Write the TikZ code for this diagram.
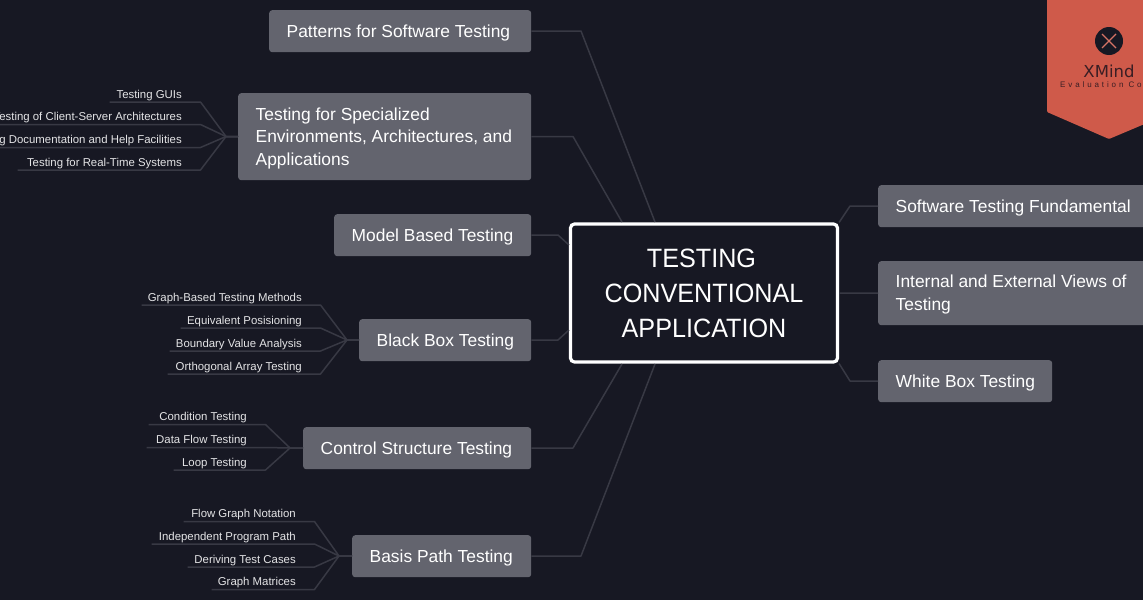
\documentclass[tikz,border=0pt]{standalone}
\usepackage{fontspec}
\setmainfont{Liberation Sans}
\newfontfamily\centerfont[FakeStretch=0.95]{Liberation Sans}
\newfontfamily\evalfont[LetterSpace=36]{Liberation Sans}
\newfontfamily\xmfont{DejaVu Sans}
\definecolor{bgc}{HTML}{171823}
\definecolor{boxc}{HTML}{63646E}
\definecolor{linec}{HTML}{383944}
\definecolor{leaftext}{HTML}{E4E4E6}
\definecolor{badge}{HTML}{CF5A4A}
\definecolor{badgetext}{HTML}{3A1E24}
\tikzset{
  branch/.style={fill=boxc,rounded corners=3pt,text=white,anchor=north west,inner sep=0pt,font=\fontsize{17.4}{22.5}\selectfont},
  leafnode/.style={anchor=south east,inner xsep=0pt,inner ysep=3.7pt,text height=8pt,text depth=0pt,text=leaftext,font=\fontsize{11.4}{13}\selectfont},
  conn/.style={draw=linec,line width=1.5pt,line join=round},
  centerbox/.style={draw=white,line width=3.2pt,fill=bgc,rounded corners=4pt,text=white,align=center,font=\centerfont\fontsize{26.5}{35}\selectfont,inner sep=0pt}
}
\newcommand{\branchnode}[6]{%
  \pgfmathsetlengthmacro{\bw}{#4-#2}\pgfmathsetlengthmacro{\bh}{#5-#3}%
  \node[branch,minimum width=\bw,minimum height=\bh] (#1) at (#2,#3) {\vbox{\kern3pt\hbox to \bw{\hskip17.5pt\begin{tabular}{@{}l@{}}#6\end{tabular}\hss}}};}
\newcommand{\leafnode}[7]{%
  \pgfmathsetlengthmacro{\lw}{#4-#6}%
  \coordinate (#1j) at (#3);
  \node[leafnode] (#1) at (#4,#5) {\makebox[\lw][r]{#7}};
  \draw[conn] (#2.west) -- (#1j) -- ([xshift=18.5pt]#1.south east) -- (#1.south west);}
\begin{document}
\begin{tikzpicture}[x=1pt,y=-1pt]
\fill[bgc] (0,0) rectangle (1143,600);
\useasboundingbox (0,0) rectangle (1143,600);
\clip (0,0) rectangle (1143,600);
% central node
\node[centerbox,minimum width=267pt,minimum height=138pt] (center) at (704,293) {TESTING\hspace*{5pt}\\CONVENTIONAL\hspace*{8pt}\\APPLICATION};
\coordinate (nwA) at (655,222);
\coordinate (nwB) at (622,222);
\coordinate (nwC) at (569,245);
\coordinate (swC) at (569,330);
\coordinate (swB) at (622,364);
\coordinate (swA) at (655,364);
% branches
\branchnode{pat}{269}{10}{531}{52}{Patterns for Software Testing}
\branchnode{spec}{238}{93}{531}{180}{Testing for Specialized\\Environments, Architectures, and\\Applications}
\branchnode{model}{334}{214}{531}{256}{Model Based Testing}
\branchnode{black}{359}{319}{531}{361}{Black Box Testing}
\branchnode{ctrl}{303}{427}{531}{469}{Control Structure Testing}
\branchnode{basis}{352}{535}{531}{577}{Basis Path Testing}
\branchnode{fund}{878}{185}{1150}{227}{Software Testing Fundamental}
\branchnode{views}{878}{261}{1150}{325}{Internal and External Views of\\Testing}
\branchnode{white}{878}{360}{1052}{402}{White Box Testing}
% main connectors
\draw[conn] (pat.east) -- (581,31) -- (nwA);
\draw[conn] (spec.east) -- (573,136.5) -- (nwB);
\draw[conn] (model.east) -- (558,235) -- (nwC);
\draw[conn] (black.east) -- (558,340) -- (swC);
\draw[conn] (ctrl.east) -- (573,448) -- (swB);
\draw[conn] (basis.east) -- (581,556) -- (swA);
\draw[conn] (center.north east) -- (850,206) -- (fund.west);
\draw[conn] (center.east) -- (views.west);
\draw[conn] (center.south east) -- (850,381) -- (white.west);
% leaves
\leafnode{s1}{spec}{226,136.5}{182}{102}{110}{Testing GUIs}
\leafnode{s2}{spec}{226,136.5}{182}{124.5}{-30}{Testing of Client-Server Architectures}
\leafnode{s3}{spec}{226,136.5}{182}{147.5}{-30}{Testing Documentation and Help Facilities}
\leafnode{s4}{spec}{226,136.5}{182}{170}{18}{Testing for Real-Time Systems}
\leafnode{b1}{black}{347,340}{302}{305}{142}{Graph-Based Testing Methods}
\leafnode{b2}{black}{347,340}{302}{328}{181}{Equivalent Posisioning}
\leafnode{b3}{black}{347,340}{302}{351}{170}{Boundary Value Analysis}
\leafnode{b4}{black}{347,340}{302}{374}{168}{Orthogonal Array Testing}
\leafnode{c1}{ctrl}{290,448}{247}{424.5}{149}{Condition Testing}
\leafnode{c2}{ctrl}{290,448}{247}{447.5}{147}{Data Flow Testing}
\leafnode{c3}{ctrl}{290,448}{247}{470}{174}{Loop Testing}
\leafnode{p1}{basis}{339,556}{296}{521.5}{184}{Flow Graph Notation}
\leafnode{p2}{basis}{339,556}{296}{544}{152}{Independent Program Path}
\leafnode{p3}{basis}{339,556}{296}{567}{188}{Deriving Test Cases}
\leafnode{p4}{basis}{339,556}{296}{589.5}{212}{Graph Matrices}
% evaluation badge
\fill[badge,rounded corners=1pt] (1047,-5) -- (1047,112) -- (1109,139) -- (1173,112) -- (1173,-5) -- cycle;
\fill[bgc] (1109,41) circle (14);
\draw[badge!85!white,line width=1.2pt] (1102,34) .. controls (1108,40) and (1110,42) .. (1116,48);
\draw[badge!85!white,line width=1.2pt] (1116,34) .. controls (1110,40) and (1108,42) .. (1102,48);
\node[text=badgetext,font=\xmfont\fontsize{16.5}{18}\selectfont,inner sep=0pt] (xm) at (1109,71) {XMind};
\node[text=badgetext,font=\evalfont\fontsize{8}{9}\selectfont,inner sep=0pt,anchor=west] (ev) at (1060,85) {Evaluation Copy};
\end{tikzpicture}
\end{document}
